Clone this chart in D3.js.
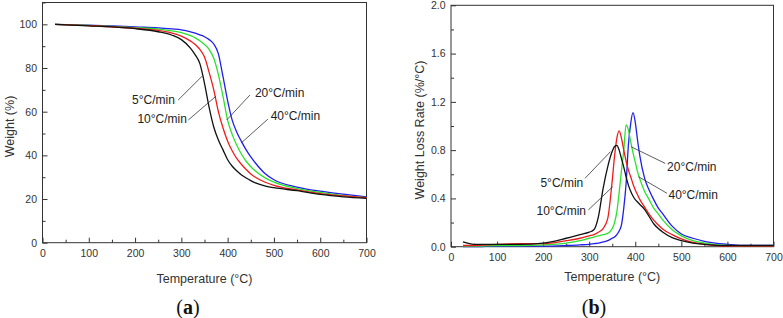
<!DOCTYPE html>
<html>
<head>
<meta charset="utf-8">
<script src="https://cdn.jsdelivr.net/npm/d3@7"></script>
<style>
  body { margin: 0; background: #fff; }
  svg { display: block; font-family: Arial, "Liberation Sans", sans-serif; }
  .tick text { font-size: 10.5px; fill: #333; }
  .tick line { stroke: #333; }
  .frame { fill: none; stroke: #333; stroke-width: 1; }
  .curve { fill: none; stroke-width: 1.3; }
  .note { font-size: 12px; fill: #222; }
  .leader { stroke: #333; stroke-width: 0.8; }
  .title { font-size: 12.5px; fill: #333; }
  .panel { font-family: "Liberation Serif", serif; font-size: 20px; fill: #111; }
</style>
</head>
<body>
<svg width="783" height="318"></svg>
<script>
// rates
const rates = ["5°C/min", "10°C/min", "20°C/min", "40°C/min"];
const colors = ["#111111", "#ee1c1c", "#2ee02e", "#1f1fee"];

// (a) TGA weight (%)
const tgaTemp = [27, 100, 150, 200, 250, 280, 300, 320, 330, 340, 350, 360, 370, 380, 390, 400, 410, 420, 430, 440, 450, 460, 480, 500, 550, 600, 650, 700];
const tga5 = [100, 99.3, 98.8, 98.0, 96.6, 95.0, 93.0, 89.0, 86.0, 82.0, 73.0, 62.0, 53.0, 47.0, 42.5, 38.0, 35.0, 32.8, 31.0, 29.6, 28.4, 27.4, 26.0, 25.2, 23.8, 22.1, 21.0, 20.3];
const tga10 = [100, 99.4, 98.9, 98.2, 97.2, 96.0, 94.6, 92.3, 90.8, 88.5, 85.0, 78.0, 70.0, 60.0, 52.5, 46.5, 42.0, 38.5, 35.8, 33.5, 31.5, 30.0, 27.8, 26.3, 24.2, 22.5, 21.4, 20.6];
const tga20 = [100, 99.5, 99.1, 98.5, 97.8, 97.0, 96.2, 94.8, 93.8, 92.5, 90.8, 88.5, 84.5, 77.0, 67.0, 56.0, 49.5, 44.5, 40.5, 37.3, 34.8, 32.8, 29.8, 27.7, 24.8, 23.0, 21.6, 20.6];
const tga40 = [100, 99.6, 99.3, 98.8, 98.4, 97.9, 97.5, 96.6, 96.0, 95.2, 94.3, 93.0, 91.0, 86.5, 76.0, 65.0, 56.0, 50.5, 46.3, 42.5, 39.3, 36.5, 31.8, 28.8, 25.5, 23.6, 22.2, 21.0];

// (b) DTG weight loss rate (%/°C)
const dtgTemp = [26, 50, 100, 150, 200, 250, 280, 300, 310, 320, 330, 340, 350, 355, 360, 365, 370, 375, 380, 385, 390, 395, 400, 405, 410, 420, 430, 440, 450, 460, 480, 500, 525, 550, 600, 650, 700];
const dtg5 = [0.04, 0.02, 0.02, 0.02, 0.03, 0.07, 0.10, 0.12, 0.14, 0.25, 0.48, 0.66, 0.79, 0.83, 0.84, 0.80, 0.73, 0.66, 0.58, 0.51, 0.46, 0.42, 0.39, 0.37, 0.35, 0.31, 0.25, 0.19, 0.15, 0.12, 0.075, 0.05, 0.03, 0.02, 0.01, 0.01, 0.01];
const dtg10 = [0.01, 0.01, 0.02, 0.025, 0.025, 0.05, 0.07, 0.09, 0.10, 0.12, 0.15, 0.23, 0.55, 0.75, 0.90, 0.96, 0.90, 0.80, 0.71, 0.635, 0.58, 0.52, 0.47, 0.43, 0.39, 0.33, 0.27, 0.22, 0.18, 0.145, 0.10, 0.065, 0.035, 0.02, 0.005, 0.005, 0.005];
const dtg20 = [0.005, 0.005, 0.01, 0.01, 0.015, 0.03, 0.05, 0.07, 0.08, 0.09, 0.10, 0.11, 0.15, 0.20, 0.29, 0.45, 0.63, 0.80, 1.01, 0.97, 0.87, 0.78, 0.70, 0.62, 0.56, 0.46, 0.39, 0.32, 0.27, 0.22, 0.14, 0.09, 0.05, 0.03, 0.01, 0.005, 0.005];
const dtg40 = [0, 0, 0.005, 0.005, 0.005, 0.01, 0.015, 0.02, 0.025, 0.03, 0.04, 0.05, 0.07, 0.08, 0.10, 0.13, 0.18, 0.32, 0.52, 0.84, 1.02, 1.11, 1.03, 0.88, 0.75, 0.57, 0.47, 0.39, 0.32, 0.27, 0.17, 0.105, 0.07, 0.045, 0.02, 0.01, 0.01];

// tick values
const tempTicks = [0, 100, 200, 300, 400, 500, 600, 700];
const tempMinor = [50, 150, 250, 350, 450, 550, 650];
const weightTicks = [0, 20, 40, 60, 80, 100];
const weightMinor = [10, 30, 50, 70, 90, 110];
const rateTicks = [0, 0.4, 0.8, 1.2, 1.6, 2.0];
const rateMinor = [0.2, 0.6, 1.0, 1.4, 1.8];

// leader notes, in data units: [text x, text y, anchor, line from x,y, line to x,y]
const notesA = [
  [286, 63.5, "end", 293, 65.3, 347, 76.7],
  [312, 54.8, "end", 315, 56.2, 375, 67.1],
  [459, 66.7, "start", 448, 67.6, 398, 56.2],
  [493, 56.2, "start", 487, 56.6, 430, 45.8]
];
const notesB = [
  [287, 0.495, "end", 291, 0.567, 346, 0.787],
  [293, 0.263, "end", 298, 0.304, 351, 0.497],
  [469, 0.627, "start", 465, 0.69, 391, 0.828],
  [472, 0.393, "start", 469, 0.442, 407, 0.58]
];

const svg = d3.select("svg");

function panel(opt) {
  const x = d3.scaleLinear().domain([0, 700]).range([opt.left, opt.right]);
  const y = d3.scaleLinear().domain(opt.yDomain).range([opt.bottom, opt.top]);
  const g = svg.append("g");

  // minor ticks first, then major with labels
  g.append("g").attr("transform", `translate(0,${opt.bottom})`)
    .call(d3.axisBottom(x).tickValues(tempMinor).tickSize(-3).tickFormat(""))
    .call((s) => s.select(".domain").remove());
  g.append("g").attr("transform", `translate(0,${opt.bottom})`)
    .call(d3.axisBottom(x).tickValues(tempTicks).tickSize(-5).tickPadding(6.5).tickFormat(d3.format("d")))
    .call((s) => s.select(".domain").remove());
  g.append("g").attr("transform", `translate(${opt.left},0)`)
    .call(d3.axisLeft(y).tickValues(opt.yMinor).tickSize(-3).tickFormat(""))
    .call((s) => s.select(".domain").remove());
  g.append("g").attr("transform", `translate(${opt.left},0)`)
    .call(d3.axisLeft(y).tickValues(opt.yTicks).tickSize(-5).tickPadding(5.5).tickFormat(opt.yFormat))
    .call((s) => s.select(".domain").remove());

  g.append("rect").attr("class", "frame")
    .attr("x", opt.left).attr("y", opt.top)
    .attr("width", opt.right - opt.left).attr("height", opt.bottom - opt.top);

  const line = d3.line()
    .x((d) => x(d[0]))
    .y((d) => y(d[1]))
    .curve(d3.curveMonotoneX);

  // draw 40 first so black ends on top
  opt.series.map((s, i) => ({ s, i })).reverse().forEach(({ s, i }) => {
    g.append("path")
      .attr("class", "curve")
      .attr("stroke", colors[i])
      .attr("stroke-width", i === 0 ? opt.blackWidth : 1.3)
      .attr("d", line(opt.temps.map((t, k) => [t, s[k]])));
  });

  opt.notes.forEach((n, i) => {
    g.append("line").attr("class", "leader")
      .attr("x1", x(n[3])).attr("y1", y(n[4]))
      .attr("x2", x(n[5])).attr("y2", y(n[6]));
    g.append("text").attr("class", "note")
      .attr("x", x(n[0])).attr("y", y(n[1]))
      .attr("text-anchor", n[2])
      .text(rates[i]);
  });

  g.append("text").attr("class", "title")
    .attr("x", (opt.left + opt.right) / 2).attr("y", opt.xTitleY)
    .attr("text-anchor", "middle")
    .text("Temperature (°C)");
  g.append("text").attr("class", "title")
    .attr("transform", `translate(${opt.yTitleX},${opt.yTitleMid}) rotate(-90)`)
    .attr("text-anchor", "middle")
    .text(opt.yTitle);

  const lab = g.append("text").attr("class", "panel")
    .attr("x", opt.labelX).attr("y", 314).attr("text-anchor", "middle");
  lab.append("tspan").text("(");
  lab.append("tspan").attr("font-weight", "bold").text(opt.label);
  lab.append("tspan").text(")");
}

panel({
  left: 42.5, right: 366.5, top: 2.5, bottom: 242.7,
  yDomain: [0, 110], yTicks: weightTicks, yMinor: weightMinor, yFormat: d3.format("d"),
  temps: tgaTemp, series: [tga5, tga10, tga20, tga40], blackWidth: 1.3,
  notes: notesA, xTitleY: 283, yTitleX: 13.5, yTitleMid: 126.5, yTitle: "Weight (%)",
  label: "a", labelX: 188
});

panel({
  left: 451, right: 773.5, top: 5.3, bottom: 246.7,
  yDomain: [0, 2.0], yTicks: rateTicks, yMinor: rateMinor, yFormat: d3.format(".1f"),
  temps: dtgTemp, series: [dtg5, dtg10, dtg20, dtg40], blackWidth: 1.8,
  notes: notesB, xTitleY: 280.5, yTitleX: 423.5, yTitleMid: 130, yTitle: "Weight Loss Rate (%/°C)",
  label: "b", labelX: 594
});
</script>
</body>
</html>
